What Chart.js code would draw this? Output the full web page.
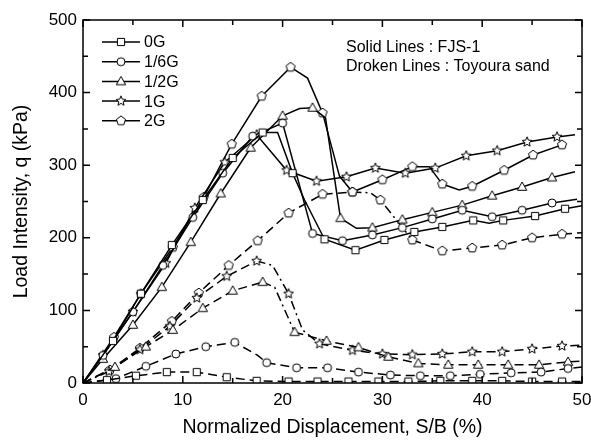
<!DOCTYPE html>
<html>
<head>
<meta charset="utf-8">
<script src="https://cdn.jsdelivr.net/npm/chart.js@4.4.1/dist/chart.umd.min.js"></script>
<style>
  html, body { margin: 0; padding: 0; background: #fff; }
  #wrap { width: 591px; height: 443px; }
</style>
</head>
<body>
<div id="wrap"><canvas id="chart" width="591" height="443"></canvas></div>
<script>
// ─── Data ───────────────────────────────────────────────────────────────
const xTicks = [0, 10, 20, 30, 40, 50];
const yTicks = [0, 100, 200, 300, 400, 500];
const groups = ["0G", "1/6G", "1/2G", "1G", "2G"];

// Solid lines : FJS-1
const fjs0G_x  = [0, 3, 5.8, 8.9, 12, 15, 18, 19.5, 21, 22.2, 24.2, 27.3, 30.2, 33.2, 36, 39.1, 40.7, 42.1, 45.3, 48.3, 50];
const fjs0G_q  = [0, 58, 123, 190, 252, 310, 345, 345, 289, 252, 198, 183, 197, 208, 215, 224, 220, 224, 230, 240, 244];
const fjs16G_x = [0, 2, 5, 8, 11, 14, 17, 20, 23, 26, 29, 32, 35, 38, 41, 44, 47, 49.5];
const fjs16G_q = [0, 38, 98, 162, 228, 289, 340, 358, 206, 196, 204, 214, 226, 238, 229, 238, 248, 253];
const fjs12G_x = [0, 2, 5, 7.9, 10.8, 13.8, 16.8, 20, 21.7, 23, 24.3, 25.8, 27.4, 29, 32, 35, 38, 41, 44, 47, 49.3];
const fjs12G_q = [0, 33, 80, 132, 194, 261, 324, 368, 378, 379, 365, 227, 213, 214, 225, 235, 245, 258, 270, 283, 291];
const fjs1G_x  = [0, 2, 5, 8.3, 11.2, 14.2, 17.4, 20.4, 23.4, 26.4, 29.3, 32.3, 35.3, 38.4, 41.5, 44.5, 47.5, 49.3];
const fjs1G_q  = [0, 38, 98, 165, 241, 304, 342, 293, 278, 284, 296, 289, 296, 313, 320, 332, 339, 342];
const fjs2G_x  = [0, 3.1, 5.8, 9, 12.1, 14.9, 17.9, 20.8, 22.5, 24, 25.7, 27, 30, 33, 34.7, 36, 37.7, 39, 42.2, 45.1, 48];
const fjs2G_q  = [0, 63, 123, 187, 256, 329, 395, 435, 420, 372, 285, 263, 280, 298, 298, 274, 266, 271, 293, 314, 328];

// Broken lines : Toyoura sand
const toy0G_x  = [0, 2.4, 5.3, 8.4, 11.4, 14.4, 17.4, 20.6, 23.5, 26.6, 29.6, 32.6, 35.8, 39, 42, 45, 48, 50];
const toy0G_q  = [0, 4, 10, 15, 15, 8, 3, 2, 2, 2, 2, 2, 3, 3, 3, 2, 2, 2];
const toy16G_x = [0, 3.3, 6.3, 9.3, 12.3, 15.2, 17.5, 18.4, 21.4, 24.5, 27.6, 30.8, 33.8, 36.8, 39.8, 42.9, 45.9, 48.6, 50];
const toy16G_q = [0, 6, 23, 40, 50, 56, 38, 28, 21, 21, 15, 11, 10, 10, 12, 14, 15, 20, 22];
const toy12G_x = [0, 3.2, 6.3, 9, 12, 15, 18, 19.2, 21.2, 24.4, 27.6, 30.6, 33.6, 36.6, 39.6, 42.6, 45.7, 48.6, 50];
const toy12G_q = [0, 22, 50, 73, 103, 127, 139, 132, 70, 58, 49, 36, 27, 25, 25, 25, 25, 29, 30];
const toy1G_x  = [0, 2.6, 5.7, 8.7, 11.4, 14.4, 17.4, 19, 20.6, 22, 23.7, 27, 30, 33, 36, 39, 42, 45, 48, 50];
const toy1G_q  = [0, 16, 46, 78, 117, 147, 168, 162, 123, 73, 54, 45, 40, 39, 40, 43, 43, 47, 51, 52];
const toy2G_x  = [0, 2.7, 5.7, 8.9, 11.6, 14.6, 17.5, 20.6, 24, 27, 28.8, 29.8, 33, 36, 39, 42, 45, 48, 50];
const toy2G_q  = [0, 18, 48, 85, 124, 162, 196, 234, 260, 263, 262, 252, 197, 182, 186, 190, 200, 205, 207];

// ─── Markers (drawn once into small canvases) ───────────────────────────
function makeMarker(shape) {
  const s = 14, c = document.createElement("canvas");
  c.width = c.height = s;
  const g = c.getContext("2d");
  g.translate(s / 2, s / 2);
  g.beginPath();
  if (shape === "square") {
    g.rect(-3.6, -3.6, 7.2, 7.2);
  } else if (shape === "circle") {
    g.arc(0, 0, 4, 0, Math.PI * 2);
  } else if (shape === "triangle") {
    g.moveTo(0, -5); g.lineTo(4.7, 3.3); g.lineTo(-4.7, 3.3); g.closePath();
  } else if (shape === "star") {
    for (let i = 0; i < 10; i++) {
      const r = i % 2 ? 2.3 : 5.2, a = -Math.PI / 2 + i * Math.PI / 5;
      g.lineTo(r * Math.cos(a), r * Math.sin(a));
    }
    g.closePath();
  } else {
    for (let i = 0; i < 5; i++) {
      const a = -Math.PI / 2 + i * 2 * Math.PI / 5;
      g.lineTo(4.8 * Math.cos(a), 4.8 * Math.sin(a));
    }
    g.closePath();
  }
  g.fillStyle = "#fff";
  g.fill();
  g.lineWidth = 1;
  g.strokeStyle = "#000";
  g.stroke();
  return c;
}

const markers = {
  "0G": makeMarker("square"),
  "1/6G": makeMarker("circle"),
  "1/2G": makeMarker("triangle"),
  "1G": makeMarker("star"),
  "2G": makeMarker("pentagon"),
};

// ─── Series styling ─────────────────────────────────────────────────────
const DASH = [9, 5];
const DASH_DOT = [9, 4, 2, 4];

const series = [
  { name: "0G",   solid: true,  x: fjs0G_x,  q: fjs0G_q,  bare: [0, 7, 9, 16, 20] },
  { name: "1/6G", solid: true,  x: fjs16G_x, q: fjs16G_q, bare: [0, 17] },
  { name: "1/2G", solid: true,  x: fjs12G_x, q: fjs12G_q, bare: [0, 8, 10, 12, 20] },
  { name: "1G",   solid: true,  x: fjs1G_x,  q: fjs1G_q,  bare: [0, 17] },
  { name: "2G",   solid: true,  x: fjs2G_x,  q: fjs2G_q,  bare: [0, 8, 10, 14, 16] },
  { name: "0G",   solid: false, x: toy0G_x,  q: toy0G_q,  bare: [0, 17] },
  { name: "1/6G", solid: false, x: toy16G_x, q: toy16G_q, bare: [0, 6, 18] },
  { name: "1/2G", solid: false, x: toy12G_x, q: toy12G_q, bare: [0, 7, 18], dashDot: [6, 7] },
  { name: "1G",   solid: false, x: toy1G_x,  q: toy1G_q,  bare: [0, 7, 9, 19], dashDot: [0, 6, 7, 8, 9] },
  { name: "2G",   solid: false, x: toy2G_x,  q: toy2G_q,  bare: [0, 10, 18], dashDot: [9, 10, 11] },
];

const datasets = series.map((s) => ({
  label: s.name,
  data: s.x.map((v, i) => ({ x: v, y: s.q[i] })),
  showLine: true,
  borderColor: "#000",
  borderWidth: 1.5,
  borderDash: s.solid ? [] : DASH,
  segment: {
    borderDash: (ctx) =>
      s.dashDot && s.dashDot.includes(ctx.p0DataIndex) ? DASH_DOT : undefined,
  },
  pointStyle: markers[s.name],
  pointRadius: (ctx) => (s.bare.includes(ctx.dataIndex) ? 0 : 4),
  pointHoverRadius: 0,
  tension: 0,
}));

// ─── Plugins: frame with inward ticks, legend, note ─────────────────────
const FONT = "'Liberation Sans', Arial, sans-serif";

const frameTicks = {
  id: "frameTicks",
  afterDraw(chart) {
    const { ctx, chartArea: a, scales: { x, y } } = chart;
    ctx.save();
    ctx.strokeStyle = "#000";
    ctx.lineWidth = 1.5;
    ctx.strokeRect(a.left, a.top, a.right - a.left, a.bottom - a.top);
    ctx.beginPath();
    for (let i = 0; i < xTicks.length; i++) {
      const vals = [xTicks[i]];
      if (i < xTicks.length - 1) vals.push((xTicks[i] + xTicks[i + 1]) / 2);
      vals.forEach((v, k) => {
        const px = x.getPixelForValue(v), len = k ? 5 : 7;
        ctx.moveTo(px, a.bottom); ctx.lineTo(px, a.bottom - len);
        ctx.moveTo(px, a.top); ctx.lineTo(px, a.top + len);
      });
    }
    for (let i = 0; i < yTicks.length; i++) {
      const vals = [yTicks[i]];
      if (i < yTicks.length - 1) vals.push((yTicks[i] + yTicks[i + 1]) / 2);
      vals.forEach((v, k) => {
        const py = y.getPixelForValue(v), len = k ? 5 : 7;
        ctx.moveTo(a.left, py); ctx.lineTo(a.left + len, py);
        ctx.moveTo(a.right, py); ctx.lineTo(a.right - len, py);
      });
    }
    ctx.stroke();
    ctx.restore();
  },
};

const legendBox = {
  id: "legendBox",
  afterDatasetsDraw(chart) {
    const { ctx } = chart;
    ctx.save();
    ctx.font = "16px " + FONT;
    ctx.textBaseline = "middle";
    ctx.fillStyle = "#000";
    groups.forEach((g, i) => {
      const yy = 42 + i * 19.7;
      ctx.beginPath();
      ctx.strokeStyle = "#000";
      ctx.lineWidth = 1.5;
      ctx.moveTo(102, yy); ctx.lineTo(140, yy);
      ctx.stroke();
      const m = markers[g];
      ctx.drawImage(m, 121 - m.width / 2, yy - m.height / 2);
      ctx.fillText(g, 144, yy + 1);
    });
    ctx.fillText("Solid Lines : FJS-1", 346, 48);
    ctx.fillText("Droken Lines : Toyoura sand", 346, 67);
    ctx.restore();
  },
};

// ─── Chart ──────────────────────────────────────────────────────────────
new Chart(document.getElementById("chart"), {
  type: "scatter",
  data: { datasets },
  options: {
    responsive: false,
    animation: false,
    events: [],
    layout: { padding: { top: 20, right: 9, left: 0, bottom: 0 } },
    plugins: { legend: { display: false }, tooltip: { enabled: false } },
    scales: {
      x: {
        type: "linear",
        min: 0,
        max: 50,
        afterBuildTicks: (s) => { s.ticks = xTicks.map((v) => ({ value: v })); },
        afterFit: (s) => { s.height = 60; s.paddingLeft = 0; s.paddingRight = 0; },
        grid: { display: false, drawTicks: false },
        border: { display: false },
        ticks: { color: "#000", font: { family: FONT, size: 17 }, padding: 7, maxRotation: 0 },
        title: {
          display: true,
          text: "Normalized Displacement, S/B (%)",
          color: "#000",
          font: { family: FONT, size: 19.5 },
          padding: { top: 0, bottom: 4 },
        },
      },
      y: {
        type: "linear",
        min: 0,
        max: 500,
        afterBuildTicks: (s) => { s.ticks = yTicks.map((v) => ({ value: v })); },
        afterFit: (s) => { s.width = 83; s.paddingTop = 0; s.paddingBottom = 0; },
        grid: { display: false, drawTicks: false },
        border: { display: false },
        ticks: { color: "#000", font: { family: FONT, size: 17 }, padding: 6 },
        title: {
          display: true,
          text: "Load Intensity, q (kPa)",
          color: "#000",
          font: { family: FONT, size: 19.5 },
          padding: { top: 10, bottom: 0 },
        },
      },
    },
  },
  plugins: [frameTicks, legendBox],
});
</script>
</body>
</html>
